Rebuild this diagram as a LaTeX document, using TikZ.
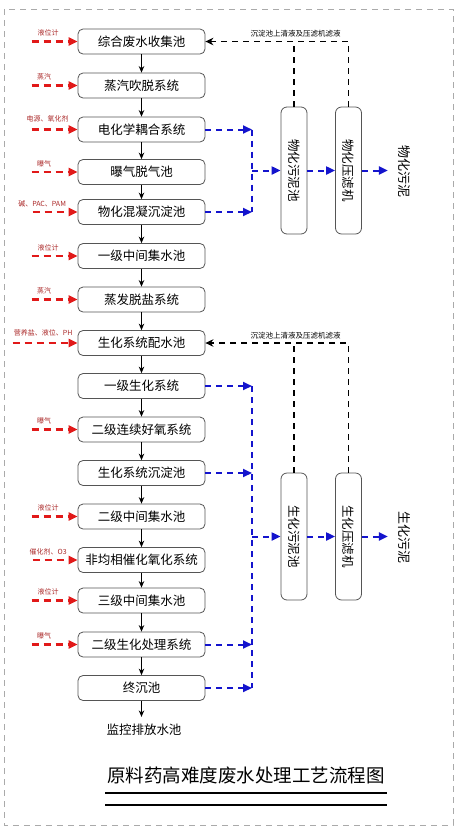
\documentclass[tikz,border=0pt]{standalone}
\usepackage{fontspec}
\setmainfont{Noto Sans CJK SC}
\usetikzlibrary{arrows.meta}
\definecolor{redA}{RGB}{225,25,25}
\definecolor{redL}{RGB}{170,40,40}
\definecolor{blueA}{RGB}{20,20,205}
\definecolor{boxline}{RGB}{85,85,85}
\definecolor{framegray}{RGB}{170,170,170}
\begin{document}
\begin{tikzpicture}[x=1pt,y=-1pt,
  mainbox/.style={draw=boxline, line width=0.8pt, rounded corners=5pt, minimum width=127pt, minimum height=25pt, inner sep=0pt, font=\fontsize{12.5}{14}\selectfont},
  tallbox/.style={draw=boxline, line width=0.8pt, rounded corners=6pt, minimum width=26pt, minimum height=127pt, inner sep=0pt, font=\fontsize{12.5}{14}\selectfont},
  flow/.style={line width=1.5pt, -{Stealth[length=6.5pt,width=5.5pt]}},
  feed/.style={draw=redA, line width=2.2pt, dash pattern=on 7pt off 5pt, -{Triangle[length=9pt,width=8pt]}},
  feedlbl/.style={text=redL, font=\fontsize{7}{8}\selectfont, inner sep=0pt},
  sludge/.style={draw=blueA, line width=2pt, dash pattern=on 6pt off 5pt},
  sludgearr/.style={sludge, -{Triangle[length=9pt,width=8pt]}},
  ret/.style={line width=1.8pt, dash pattern=on 6pt off 5pt},
  retarr/.style={ret, -{Stealth[length=8pt,width=7.5pt]}},
  retlbl/.style={font=\fontsize{7.5}{8}\selectfont, inner sep=0pt},
  plainlbl/.style={font=\fontsize{12.5}{14}\selectfont, inner sep=0pt}
]
\useasboundingbox (0,0) rectangle (462,831);
% outer frame
\draw[framegray, line width=0.9pt, dash pattern=on 6pt off 5pt] (4,9) rectangle (453,825);

% main column
\foreach \n/\y/\t in {1/41.5/综合废水收集池, 2/85.5/蒸汽吹脱系统, 3/129.5/电化学耦合系统, 4/172/曝气脱气池, 5/212/物化混凝沉淀池, 6/256/一级中间集水池, 7/299.5/蒸发脱盐系统, 8/343/生化系统配水池, 9/386/一级生化系统, 10/429.5/二级连续好氧系统, 11/473/生化系统沉淀池, 12/516.5/二级中间集水池, 13/560/非均相催化氧化系统, 14/600.5/三级中间集水池, 15/644.5/二级生化处理系统, 16/688/终沉池}
  \node[mainbox] (b\n) at (141.5,\y) {\t};

\foreach \i [evaluate=\i as \j using int(\i+1)] in {1,...,15}
  \draw[flow] (b\i) -- (b\j);

\path (b16.south) ++(0,16) coordinate (out);
\draw[flow] (b16.south) -- (out);
\node[plainlbl] (mon) at (144,730) {监控排放水池};

% red feeds
\foreach \n/\len/\lx/\ly/\t in {1/46/-29.5/8.5/液位计, 2/46/-33.5/8.5/蒸汽, 3/46/-30/10.5/电源、氧化剂, 4/46/-33.5/8.5/曝气, 5/45/-35.5/8/碱、PAC、PAM, 6/46/-29.5/8/液位计, 7/46/-33.5/8.5/蒸汽, 8/65/-34.5/10/营养盐、液位、PH, 10/46/-33.5/8.5/曝气, 12/46/-29.5/8.5/液位计, 13/45/-29.5/8.5/催化剂、O3, 14/46/-29.5/8.5/液位计, 15/46/-33.5/8.5/曝气}
{
  \path (b\n.west) ++(-\len,0) coordinate (f\n);
  \draw[feed] (f\n) -- (b\n.west);
  \node[feedlbl] (l\n) at ([xshift=\lx pt, yshift=\ly pt]b\n.west) {\t};
}

% tall boxes
\node[tallbox] (A) at (294,170.5) {\rotatebox{-90}{物化污泥池}};
\node[tallbox] (B) at (348.5,170.5) {\rotatebox{-90}{物化压滤机}};
\node[tallbox] (C) at (294,536.5) {\rotatebox{-90}{生化污泥池}};
\node[tallbox] (D) at (348.5,536.5) {\rotatebox{-90}{生化压滤机}};
\node[plainlbl, font=\fontsize{13}{14}\selectfont] (s1) at (404,171) {\rotatebox{-90}{物化污泥}};
\node[plainlbl, font=\fontsize{13}{14}\selectfont] (s2) at (404,537) {\rotatebox{-90}{生化污泥}};

% return lines
\draw[retarr] (B.north) |- (b1.east);
\draw[ret] (A.north) -- (A.north |- b1.east);
\node[retlbl] (r1) at (295.5,34) {沉淀池上清液及压滤机滤液};
\draw[retarr] (D.north) |- (b8.east);
\draw[ret] (C.north) -- (C.north |- b8.east);
\node[retlbl] (r2) at (295.5,335.5) {沉淀池上清液及压滤机滤液};

% blue sludge lines
\coordinate (xv) at (252,0);
\foreach \n in {3,5,9,11,15,16} {
  \path (b\n.east -| xv) coordinate (j\n);
  \draw[sludgearr] (b\n.east) -- (j\n);
}
\draw[sludge] (j3) -- (j5);
\draw[sludge] (j9) -- (j16);
\path (A.west -| xv) coordinate (jA);
\path (C.west -| xv) coordinate (jC);
\draw[sludgearr] (jA) -- (A.west);
\draw[sludgearr] (A.east) -- (B.west);
\path (B.east) ++(26,0) coordinate (oB);
\draw[sludgearr] (B.east) -- (oB);
\draw[sludgearr] (jC) -- (C.west);
\draw[sludgearr] (C.east) -- (D.west);
\path (D.east) ++(26,0) coordinate (oD);
\draw[sludgearr] (D.east) -- (oD);

% title
\node[plainlbl, font=\fontsize{18.5}{20}\selectfont] (title) at (246,775) {原料药高难度废水处理工艺流程图};
\draw[line width=1.8pt] (105,793) -- (387,793);
\draw[line width=2.8pt] (105,805) -- (387,805);
\end{tikzpicture}
\end{document}
